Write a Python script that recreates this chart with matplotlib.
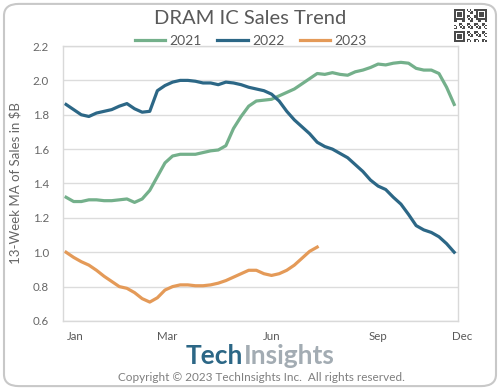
# DRAM IC sales trend, 13-week moving average by year

import matplotlib.pyplot as plt
import numpy as np
from matplotlib.patches import FancyBboxPatch

plt.rcParams['font.family'] = ['Lato', 'DejaVu Sans']

# weekly values ($B)
sales_2021 = [1.32, 1.295, 1.295, 1.305, 1.305, 1.30, 1.30, 1.305, 1.31, 1.29,
              1.31, 1.36, 1.44, 1.52, 1.56, 1.57, 1.57, 1.57, 1.58, 1.59,
              1.595, 1.62, 1.72, 1.79, 1.85, 1.88, 1.885, 1.89, 1.91, 1.93,
              1.95, 1.98, 2.01, 2.04, 2.035, 2.045, 2.035, 2.03, 2.05, 2.06,
              2.075, 2.095, 2.09, 2.10, 2.105, 2.10, 2.07, 2.06, 2.06, 2.04,
              1.96, 1.86]
sales_2022 = [1.86, 1.83, 1.80, 1.79, 1.81, 1.82, 1.83, 1.85, 1.865, 1.835,
              1.815, 1.82, 1.94, 1.97, 1.99, 2.0, 2.0, 1.995, 1.985, 1.985,
              1.975, 1.99, 1.985, 1.975, 1.96, 1.95, 1.94, 1.92, 1.88, 1.82,
              1.77, 1.73, 1.69, 1.64, 1.615, 1.60, 1.575, 1.55, 1.51, 1.47,
              1.42, 1.385, 1.365, 1.32, 1.28, 1.22, 1.155, 1.13, 1.115, 1.09,
              1.05, 1.00]
sales_2023 = [1.00, 0.97, 0.945, 0.925, 0.895, 0.86, 0.83, 0.80, 0.79, 0.765,
              0.73, 0.71, 0.735, 0.78, 0.80, 0.81, 0.81, 0.805, 0.805, 0.81,
              0.82, 0.835, 0.855, 0.875, 0.895, 0.895, 0.875, 0.865, 0.875, 0.895,
              0.925, 0.965, 1.005, 1.03]

month_labels = ['Jan', 'Mar', 'Jun', 'Sep', 'Dec']
month_weeks = [2.2, 14.3, 28, 42, 53]
y_ticks = [0.6, 0.8, 1.0, 1.2, 1.4, 1.6, 1.8, 2.0, 2.2]

c2021 = '#74b08b'
c2022 = '#2c6786'
c2023 = '#e49a58'
txt = '#595959'

fig = plt.figure(figsize=(5, 3.9), dpi=100)
fig.patch.set_facecolor('white')

# rounded frame around the whole image
fig.patches.append(FancyBboxPatch((0.008, 0.01), 0.984, 0.98,
                                  boxstyle='round,pad=0,rounding_size=0.03',
                                  transform=fig.transFigure, fill=False,
                                  edgecolor='#c8c8c8', linewidth=1.5))

ax = fig.add_axes([0.126, 0.177, 0.79, 0.705])

ax.plot(range(1, len(sales_2021) + 1), sales_2021, color=c2021, lw=2.3, label='2021')
ax.plot(range(1, len(sales_2022) + 1), sales_2022, color=c2022, lw=2.3, label='2022')
ax.plot(range(1, len(sales_2023) + 1), sales_2023, color=c2023, lw=2.3, label='2023')

ax.set_xlim(0.6, 52.5)
ax.set_ylim(0.6, 2.2)
ax.set_yticks(y_ticks)
ax.set_yticklabels([f'{v:.1f}' for v in y_ticks], fontsize=8.3, color='#666666')
ax.set_xticks([])
ax.tick_params(axis='y', length=0, pad=10)
ax.grid(axis='y', color='#dcdcdc', linewidth=1)
ax.set_axisbelow(True)
for s in ax.spines.values():
    s.set_color('#d9d9d9')
    s.set_linewidth(1)

for lab, w in zip(month_labels, month_weeks):
    ax.text(w, -0.035, lab, transform=ax.get_xaxis_transform(),
            ha='center', va='top', fontsize=8.3, color=txt, clip_on=False)

ax.set_ylabel('13-Week MA of Sales in $B', fontsize=9.5, color='#666666', labelpad=8)

fig.text(0.5, 0.952, 'DRAM IC Sales Trend', ha='center', va='center',
         fontsize=14.5, color=txt)
ax.legend(loc='lower center', bbox_to_anchor=(0.475, 0.975), ncol=3, frameon=False,
          fontsize=10, handlelength=2.2, handletextpad=0.3, columnspacing=1.1,
          borderaxespad=0, labelcolor=txt)

# TechInsights logo text
fig.text(0.487, 0.087, 'Tech', ha='right', va='center', fontsize=19,
         fontweight='bold', color=c2022)
fig.text(0.487, 0.087, 'Insights', ha='left', va='center', fontsize=19,
         fontweight='bold', color='#a3acb3')
fig.text(0.523, 0.032, 'Copyright \u00a9 2023 TechInsights Inc.  All rights reserved.',
         ha='center', va='center', fontsize=8.5, color='#7f7f7f')

# QR-style badge in the top right corner
qax = fig.add_axes([0.908, 0.893, 0.066, 0.085])
n = 21
ii, jj = np.meshgrid(np.arange(n), np.arange(n))
grid = ((ii * 7 + jj * 3 + ii * jj) % 5 < 2).astype(float)
for r0, c0 in [(0, 0), (0, n - 7), (n - 7, 0)]:
    grid[r0:r0 + 7, c0:c0 + 7] = 0
    grid[r0:r0 + 7, c0] = 1
    grid[r0:r0 + 7, c0 + 6] = 1
    grid[r0, c0:c0 + 7] = 1
    grid[r0 + 6, c0:c0 + 7] = 1
    grid[r0 + 2:r0 + 5, c0 + 2:c0 + 5] = 1
qax.imshow(grid, cmap='Greys', interpolation='nearest', vmin=0, vmax=1.3)
qax.axis('off')

plt.savefig('out.png', dpi=100)
plt.close()
